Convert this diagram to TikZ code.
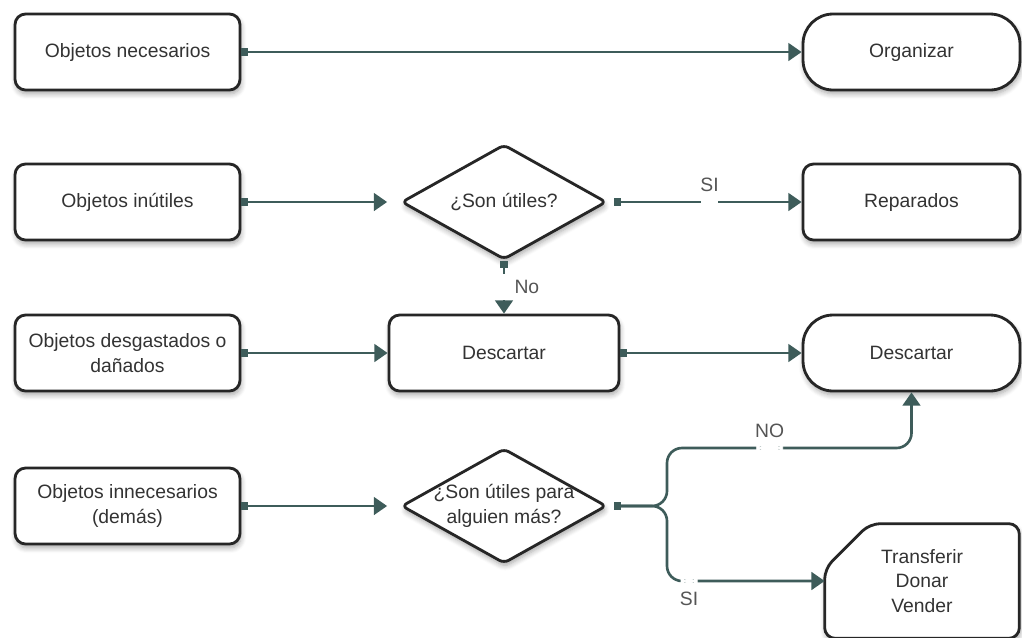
\documentclass[tikz,border=0pt]{standalone}
\usepackage{fontspec}
\setmainfont{Liberation Sans}
\usetikzlibrary{arrows.meta,shapes.geometric,shadows.blur,backgrounds}
\definecolor{linea}{HTML}{3E5C5A}
\definecolor{borde}{HTML}{262626}
\definecolor{texto}{HTML}{333333}
\definecolor{etiq}{HTML}{555555}

\begin{document}
\begin{tikzpicture}[x=0.02cm,y=-0.02cm,
		font=\fontsize{11}{14}\selectfont, text=texto,
		sombra/.style={blur shadow={shadow blur steps=6, shadow xshift=0.6pt, shadow yshift=-2.2pt, shadow opacity=35, shadow blur radius=3pt}},
		caja/.style={draw=borde, line width=1.6pt, fill=white, rounded corners=6pt, align=center, minimum width=4.5cm, minimum height=1.52cm, inner sep=2pt, sombra},
		terminal/.style={caja, rounded corners=0.6cm, minimum width=4.34cm},
		decision/.style={diamond, draw=borde, line width=1.6pt, fill=white, rounded corners=3pt, aspect=1.8, inner sep=-1.5pt, minimum width=4.1cm, minimum height=2.3cm, align=center, sombra},
		conn/.style={draw=linea, line width=1.5pt, arrows={Square[length=4pt,width=5pt]-Triangle[length=7.5pt,width=10pt]}},
		hueco/.style={fill=white, draw=white, line width=0.5pt, inner sep=0pt, minimum width=0.32cm, minimum height=6pt},
		vhueco/.style={fill=white, draw=white, line width=0.5pt, inner sep=0pt, minimum width=6pt, minimum height=0.5cm},
		every label/.style={text=etiq, inner sep=2pt}]
	\useasboundingbox (0,0) rectangle (1022,637);
	\node[caja] (nec) at (127.5,52) {Objetos necesarios};
	\node[caja] (inu) at (127.5,202) {Objetos inútiles};
	\node[caja] (des) at (127.5,353) {Objetos desgastados o\\dañados};
	\node[caja] (inn) at (127.5,506) {Objetos innecesarios\\(demás)};
	\node[terminal] (org) at (911.5,52) {Organizar};
	\node[decision] (sut) at (504,202) {¿Son útiles?};
	\node[caja, minimum width=4.34cm] (rep) at (911.5,202) {Reparados};
	\node[caja, minimum width=4.6cm] (desc) at (504,353) {Descartar};
	\node[terminal] (fin) at (911.5,353) {Descartar};
	\node[decision] (sum) at (504,506) {¿Son útiles para\\alguien más?};
	\node[minimum width=3.88cm, minimum height=2.28cm, align=center, inner sep=0pt] (tdv) at (922,581) {Transferir\\Donar\\Vender};
	\begin{scope}[on background layer]
		\draw[borde, line width=1.6pt, fill=white, rounded corners=6pt, sombra] ([yshift=-0.9cm]tdv.north west) -- ([xshift=0.9cm]tdv.north west) -- (tdv.north east) -- (tdv.south east) -- (tdv.south west) -- cycle;
	\end{scope}
	\draw[conn] (nec) -- (org);
	\draw[conn, shorten >=0.26cm] (inu) -- (sut);
	\draw[conn, shorten <=0.12cm] (sut) -- node[hueco, pos=0.525, label=above:SI]{} (rep);
	\draw[conn] (sut) -- node[vhueco, pos=0.5, label=right:No]{} (desc);
	\draw[conn] (des) -- (desc);
	\draw[conn] (desc) -- (fin);
	\draw[conn, shorten >=0.26cm] (inn) -- (sum);
	\draw[conn, shorten <=0.12cm, rounded corners=0.3cm] (sum.east) -- (667,506) -- (667,448) -| node[hueco, pos=0.21, minimum width=0.52cm, label=above:NO]{} (fin.south);
	\draw[conn, shorten <=0.12cm, rounded corners=0.3cm] (sum.east) -- (667,506) |- node[hueco, pos=0.57, label=below:SI]{} (tdv.west);
\end{tikzpicture}
\end{document}
